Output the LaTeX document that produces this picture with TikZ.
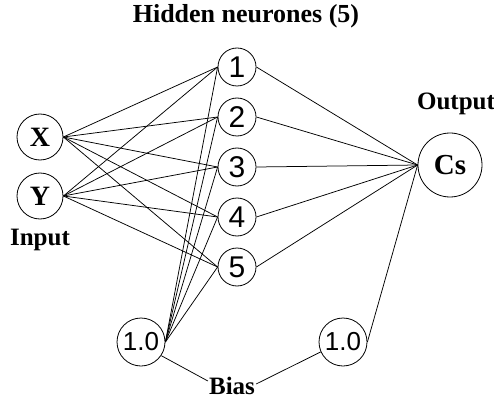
\documentclass[tikz,border=0pt]{standalone}
\usepackage{fontspec}
\setmainfont{Liberation Serif}
\newfontfamily\numfont{Liberation Sans}
\begin{document}
\begin{tikzpicture}[x=1pt,y=-1pt,
  lbl/.style={font=\fontsize{25}{27}\selectfont\bfseries, inner sep=1pt},
  io/.style={draw, circle, line width=0.8pt, minimum size=46pt, inner sep=0pt, font=\fontsize{28}{30}\selectfont\bfseries},
  hid/.style={draw, circle, line width=0.8pt, minimum size=38pt, inner sep=0pt, font=\numfont\fontsize{30}{32}\selectfont},
  bias/.style={draw, circle, line width=0.8pt, minimum size=48pt, inner sep=0pt, font=\numfont\fontsize{26}{28}\selectfont},
  conn/.style={line width=0.75pt}]
\useasboundingbox (0,0) rectangle (494,403);
\node[lbl, font=\fontsize{26}{28}\selectfont\bfseries] (title) at (246,16) {Hidden neurones (5)};
\node[io] (X) at (40,137) {X};
\node[io] (Y) at (40,196) {Y};
\node[lbl] (inp) at (40,240) {Input};
\node[hid] (h1) at (237,67) {1};
\node[hid] (h2) at (237,117) {2};
\node[hid] (h3) at (237,167) {3};
\node[hid] (h4) at (237,217) {4};
\node[hid] (h5) at (237,267) {5};
\node[io, minimum size=64pt, font=\fontsize{29}{31}\selectfont\bfseries] (Cs) at (450,165) {Cs};
\node[lbl] (out) at (456,104) {Output};
\node[bias] (b1) at (141,342) {1.0};
\node[bias] (b2) at (343,342) {1.0};
\node[lbl] (blbl) at (232,386) {Bias};
\foreach \i in {1,...,5}{
  \draw[conn] (X.east) -- (h\i.west);
  \draw[conn] (Y.east) -- (h\i.west);
  \draw[conn] (b1.east) -- (h\i.west);
  \draw[conn] (h\i.east) -- (Cs.west);
}
\draw[conn] (b2.east) -- (Cs.west);
\draw[conn] (b1.-34) -- ([yshift=5pt]blbl.west);
\draw[conn] ([yshift=2pt]blbl.east) -- (b2.204);
\end{tikzpicture}
\end{document}
